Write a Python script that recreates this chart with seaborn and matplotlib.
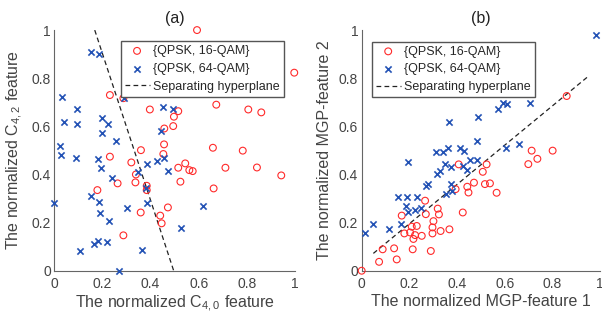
import numpy as np
import pandas as pd
import matplotlib
matplotlib.use("Agg")
import matplotlib.pyplot as plt
import seaborn as sns

# ── Panel (a): C40 / C42 features ─────────────────────────────
a16_x = [0.593, 0.997, 0.231, 0.397, 0.515, 0.497, 0.494, 0.457, 0.673, 0.806,
         0.860, 0.659, 0.783, 0.456, 0.453, 0.360, 0.231, 0.320, 0.515, 0.544,
         0.561, 0.575, 0.711, 0.842, 0.943, 0.339, 0.337, 0.263, 0.384, 0.384,
         0.524, 0.662, 0.179, 0.359, 0.472, 0.440, 0.446, 0.287, 0.287]
a16_y = [1.000, 0.823, 0.730, 0.670, 0.663, 0.640, 0.601, 0.591, 0.690, 0.670,
         0.658, 0.511, 0.499, 0.525, 0.485, 0.501, 0.474, 0.450, 0.428, 0.446,
         0.418, 0.414, 0.428, 0.429, 0.396, 0.400, 0.367, 0.363, 0.353, 0.335,
         0.370, 0.342, 0.335, 0.242, 0.263, 0.229, 0.197, 0.147, 0.717]
a64_x = [0.151, 0.186, 0.030, 0.289, 0.096, 0.040, 0.096, 0.199, 0.223, 0.198,
         0.256, 0.450, 0.493, 0.445, 0.024, 0.026, 0.090, 0.181, 0.195, 0.240,
         0.348, 0.386, 0.428, 0.456, 0.471, 0.383, 0.000, 0.151, 0.186, 0.188,
         0.227, 0.303, 0.386, 0.619, 0.525, 0.165, 0.183, 0.217, 0.107, 0.363,
         0.269]
a64_y = [0.907, 0.899, 0.723, 0.719, 0.672, 0.616, 0.608, 0.634, 0.608, 0.573,
         0.540, 0.681, 0.672, 0.579, 0.518, 0.481, 0.470, 0.463, 0.428, 0.385,
         0.410, 0.442, 0.456, 0.470, 0.416, 0.345, 0.283, 0.310, 0.285, 0.241,
         0.205, 0.262, 0.283, 0.271, 0.179, 0.112, 0.125, 0.120, 0.083, 0.086,
         0.000]
a_line_x = [0.168, 0.496]
a_line_y = [1.0, 0.0]

# ── Panel (b): MGP features ───────────────────────────────────
b16_x = [0.000, 0.073, 0.147, 0.088, 0.136, 0.214, 0.290, 0.179, 0.203, 0.217,
         0.224, 0.210, 0.231, 0.252, 0.297, 0.297, 0.301, 0.331, 0.368, 0.168,
         0.269, 0.266, 0.319, 0.324, 0.424, 0.394, 0.443, 0.448, 0.471, 0.517,
         0.538, 0.566, 0.508, 0.524, 0.407, 0.699, 0.713, 0.737, 0.801, 0.860]
b16_y = [0.000, 0.037, 0.047, 0.089, 0.093, 0.089, 0.082, 0.155, 0.159, 0.132,
         0.148, 0.183, 0.186, 0.145, 0.155, 0.180, 0.206, 0.165, 0.172, 0.229,
         0.235, 0.291, 0.258, 0.234, 0.242, 0.339, 0.349, 0.325, 0.366, 0.360,
         0.363, 0.324, 0.411, 0.442, 0.442, 0.443, 0.499, 0.465, 0.499, 0.726]
b64_x = [0.982, 0.013, 0.046, 0.116, 0.166, 0.151, 0.192, 0.186, 0.196, 0.231,
         0.225, 0.248, 0.193, 0.269, 0.280, 0.315, 0.329, 0.312, 0.343, 0.364,
         0.350, 0.375, 0.368, 0.374, 0.378, 0.354, 0.413, 0.429, 0.427, 0.443,
         0.455, 0.483, 0.485, 0.490, 0.573, 0.594, 0.608, 0.706, 0.660, 0.605]
b64_y = [0.979, 0.158, 0.193, 0.173, 0.194, 0.305, 0.305, 0.271, 0.244, 0.307,
         0.251, 0.259, 0.450, 0.353, 0.359, 0.404, 0.415, 0.494, 0.494, 0.508,
         0.443, 0.429, 0.616, 0.361, 0.332, 0.319, 0.512, 0.499, 0.435, 0.418,
         0.460, 0.460, 0.539, 0.640, 0.670, 0.698, 0.693, 0.695, 0.528, 0.508]
b_line_x = [0.049, 0.952]
b_line_y = [0.072, 0.809]

LABELS = ["{QPSK, 16-QAM}", "{QPSK, 64-QAM}", "Separating hyperplane"]
TICKS = [0, 0.2, 0.4, 0.6, 0.8, 1]
TICK_LABELS = ["0", "0.2", "0.4", "0.6", "0.8", "1"]
RED = "#FF2A2A"
BLUE = "#2352B5"
TXT = "#444444"
SPINE = "#666666"

sns.set_style("white")
plt.rcParams.update({
    "font.family": ["Liberation Sans", "DejaVu Sans"],
    "font.size": 11,
    "axes.edgecolor": SPINE,
    "axes.labelcolor": TXT,
    "xtick.color": SPINE,
    "ytick.color": SPINE,
    "xtick.labelcolor": TXT,
    "ytick.labelcolor": TXT,
    "xtick.direction": "in",
    "ytick.direction": "in",
    "axes.linewidth": 0.8,
})

fig = plt.figure(figsize=(6.02, 3.2), dpi=100)
ax_a = fig.add_axes([0.0902, 0.154, 0.3998, 0.752])
ax_b = fig.add_axes([0.6008, 0.154, 0.396, 0.752])


def draw_panel(ax, x16, y16, x64, y64, lx, ly):
    d16 = pd.DataFrame({"x": x16, "y": y16})
    d64 = pd.DataFrame({"x": x64, "y": y64})
    sns.scatterplot(data=d16, x="x", y="y", ax=ax, marker="o", s=24,
                    facecolor="none", edgecolor=RED, linewidth=0.8,
                    label=LABELS[0], clip_on=False, zorder=3)
    sns.scatterplot(data=d64, x="x", y="y", ax=ax, marker="x", s=20,
                    color=BLUE, linewidth=1.2, label=LABELS[1],
                    clip_on=False, zorder=3)
    sns.lineplot(x=lx, y=ly, ax=ax, color="#222222", linestyle=(0, (3.8, 2.6)),
                 linewidth=0.9, label=LABELS[2], sort=False)
    ax.set_xlim(0, 1)
    ax.set_ylim(0, 1)
    ax.set_xticks(TICKS)
    ax.set_yticks(TICKS)
    ax.set_xticklabels(TICK_LABELS)
    ax.set_yticklabels(TICK_LABELS)
    ax.tick_params(length=3, width=0.8, labelsize=10)
    ax.tick_params(axis="x", pad=4.5)
    ax.tick_params(axis="y", pad=2.5)
    sns.despine(ax=ax)


draw_panel(ax_a, a16_x, a16_y, a64_x, a64_y, a_line_x, a_line_y)
draw_panel(ax_b, b16_x, b16_y, b64_x, b64_y, b_line_x, b_line_y)

ax_a.set_title("(a)", fontsize=11.5, color="#222222", pad=5)
ax_b.set_title("(b)", fontsize=11.5, color="#222222", pad=5)
ax_a.set_xlabel(r"The normalized C$_\mathregular{4,0}$ feature", fontsize=11.5, labelpad=2)
ax_a.set_ylabel(r"The normalized C$_\mathregular{4,2}$ feature", fontsize=11.5, labelpad=5)
ax_b.set_xlabel("The normalized MGP-feature 1", fontsize=11.5, labelpad=2)
ax_b.set_ylabel("The normalized MGP-feature 2", fontsize=11.5, labelpad=5)

leg_kw = dict(fontsize=9, frameon=True, fancybox=False, framealpha=1,
              edgecolor="#555555", handlelength=2.0, borderpad=0.32,
              labelspacing=0.46, handletextpad=0.3, borderaxespad=0)
leg = ax_a.legend(loc="upper right", bbox_to_anchor=(0.954, 0.954), **leg_kw)
leg.set_zorder(5)
leg = ax_b.legend(loc="upper left", bbox_to_anchor=(0.042, 0.952), **leg_kw)
leg.set_zorder(5)

fig.savefig("out.png", dpi=100)
